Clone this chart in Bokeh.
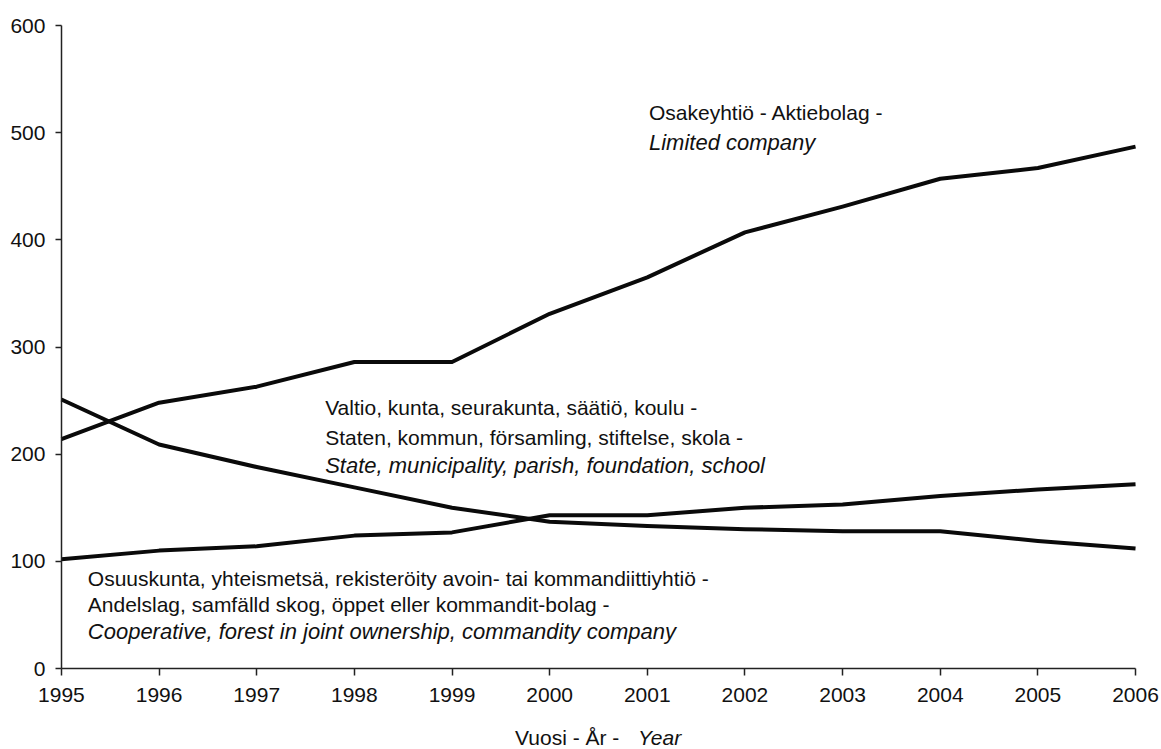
from bokeh.plotting import figure
from bokeh.models import Range1d, Label, FixedTicker
from bokeh.embed import file_html
from bokeh.resources import INLINE

# ---- data ----
years = [1995, 1996, 1997, 1998, 1999, 2000, 2001, 2002, 2003, 2004, 2005, 2006]
limited_company = [214, 248, 263, 286, 286, 331, 365, 407, 431, 457, 467, 487]
state_municipality = [251, 209, 188, 169, 150, 137, 133, 130, 128, 128, 119, 112]
cooperative = [102, 110, 114, 124, 127, 143, 143, 150, 153, 161, 167, 172]
y_ticks = [0, 100, 200, 300, 400, 500, 600]

limited_lines = ["Osakeyhtiö - Aktiebolag -", "Limited company"]
state_lines = ["Valtio, kunta, seurakunta, säätiö, koulu -",
               "Staten, kommun, församling, stiftelse, skola -",
               "State, municipality, parish, foundation, school"]
coop_lines = ["Osuuskunta, yhteismetsä, rekisteröity avoin- tai kommandiittiyhtiö -",
              "Andelslag, samfälld skog, öppet eller kommandit-bolag -",
              "Cooperative, forest in joint ownership, commandity company"]
xtitle_parts = ["Vuosi - År - ", "Year"]

FONT = "Liberation Sans"
FS = "21px"
FS_IT = "22px"

# The frame fills the whole figure so that axis labels and the two-style axis
# title (Labels) are never clipped; axes are fixed at x = 1995 and y = 0.
X_RANGE = (1994.376, 2006.266)
Y_RANGE = (-75.58, 623.33)

p = figure(width=1161, height=749,
           x_range=Range1d(*X_RANGE), y_range=Range1d(*Y_RANGE),
           output_backend="svg", toolbar_location=None,
           min_border_left=0, min_border_top=0,
           min_border_right=0, min_border_bottom=0)

p.background_fill_color = "white"
p.border_fill_color = "white"
p.outline_line_color = None
p.xgrid.visible = False
p.ygrid.visible = False

for ax in (p.xaxis[0], p.yaxis[0]):
    ax.axis_line_color = "#222222"
    ax.axis_line_width = 1.5
    ax.major_tick_line_color = "#222222"
    ax.major_tick_line_width = 1.5
    ax.major_tick_in = 0
    ax.minor_tick_line_color = None
    ax.major_label_text_font = FONT
    ax.major_label_text_font_size = FS
    ax.major_label_text_color = "#111111"

p.xaxis.ticker = FixedTicker(ticks=years)
p.yaxis.ticker = FixedTicker(ticks=y_ticks)
p.xaxis.fixed_location = 0
p.yaxis.fixed_location = years[0]
p.xaxis.bounds = (years[0], years[-1])
p.yaxis.bounds = (y_ticks[0], y_ticks[-1])
p.xaxis.major_tick_out = 7
p.yaxis.major_tick_out = 6
p.xaxis.major_label_standoff = 12
p.yaxis.major_label_standoff = 10

for series in (limited_company, state_municipality, cooperative):
    p.line(years, series, line_color="#0a0a0a", line_width=4, line_join="round")

def add_block(lines, x, ys):
    for i, (t, y) in enumerate(zip(lines, ys)):
        italic = i == len(lines) - 1
        p.add_layout(Label(x=x, y=y, text=t, text_font=FONT,
                           text_font_size=FS_IT if italic else FS,
                           text_font_style="italic" if italic else "normal",
                           text_color="#111111", text_baseline="middle",
                           text_align="left"))

add_block(limited_lines, 2001.017, [518.8, 490.8])
add_block(state_lines, 1997.701, [243.5, 215.6, 189.4])
add_block(coop_lines, 1995.27, [84.4, 59.3, 34.5])

p.add_layout(Label(x=1999.646, y=-64.4, text=xtitle_parts[0], text_font=FONT,
                   text_font_size=FS, text_color="#111111",
                   text_baseline="middle", text_align="left"))
p.add_layout(Label(x=2000.904, y=-64.4, text=xtitle_parts[1], text_font=FONT,
                   text_font_size=FS, text_font_style="italic", text_color="#111111",
                   text_baseline="middle", text_align="left"))

open("out.html", "w").write(file_html(p, INLINE))
